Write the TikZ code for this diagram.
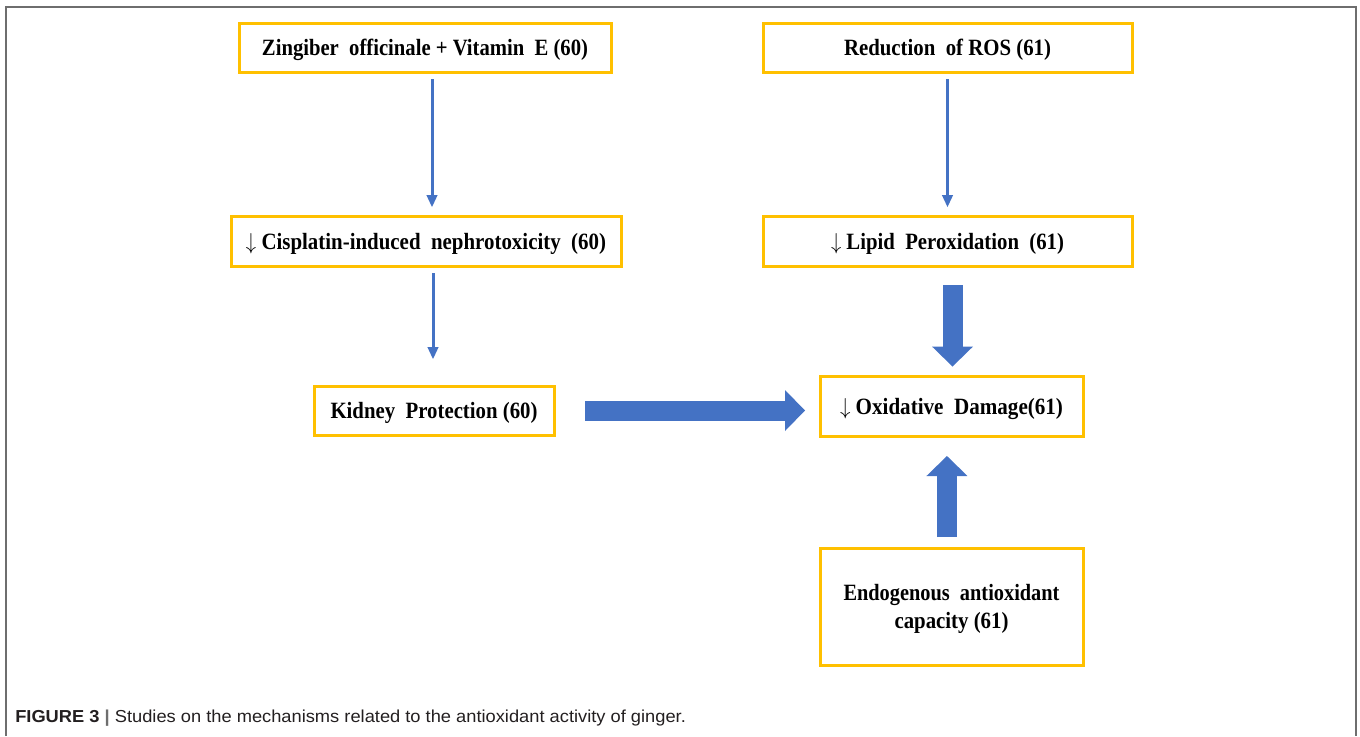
\documentclass[tikz,border=0pt]{standalone}
\usepackage{fontspec}
\usepackage{graphicx}
\setmainfont{Liberation Serif}
\newfontfamily\capfont{Liberation Sans}
\usetikzlibrary{arrows.meta}
\definecolor{boxgold}{HTML}{FFC000}
\definecolor{arrblue}{HTML}{4472C4}
\definecolor{framegray}{HTML}{6E6E6E}
\definecolor{captext}{HTML}{231F20}
\newcommand{\fw}[2]{\resizebox{#1pt}{\height}{\bfseries #2}}
\begin{document}
\begin{tikzpicture}[x=0.75pt,y=-0.75pt,
  gbox/.style={draw=boxgold, line width=2.25pt, fill=white, inner sep=0pt, outer sep=0pt,
    align=center, text depth=0pt, font=\fontsize{17.5}{19.5}\selectfont},
  thinarr/.style={draw=arrblue, line width=2.25pt, -{Triangle[length=9pt,width=8.5pt,line width=0pt]}},
  fatarr/.style={draw=arrblue, line width=15pt, -{Triangle[length=15pt,width=30.75pt,line width=0pt]}}
]
\useasboundingbox (0,0) rectangle (1360,736);
% frame
\draw[framegray, line width=1.5pt] (5.5,736) -- (5.5,6.5) -- (1355.5,6.5) -- (1355.5,736);

% boxes
\node[gbox, minimum width=279pt, minimum height=36.75pt] (A) at (425,47.5)
  {\fw{244.5}{Zingiber\ \ officinale + Vitamin\ \ E (60)}};
\node[gbox, minimum width=276.75pt, minimum height=36.75pt] (B) at (947.5,47.5)
  {\fw{155.25}{Reduction\ \ of ROS (61)}};
\node[gbox, minimum width=292.5pt, minimum height=37.5pt] (C) at (426,241)
  {\fw{270}{{\mdseries$\downarrow$} Cisplatin-induced\ \ nephrotoxicity\ \ (60)}};
\node[gbox, minimum width=276.75pt, minimum height=37.5pt] (D) at (947.5,241)
  {\fw{174.75}{{\mdseries$\downarrow$} Lipid\ \ Peroxidation\ \ (61)}};
\node[gbox, minimum width=180pt, minimum height=36.75pt] (E) at (434,410.5)
  {\fw{155.25}{Kidney\ \ Protection (60)}};
\node[gbox, minimum width=197.25pt, minimum height=45pt] (F) at (951.5,406)
  {\fw{167.25}{{\mdseries$\downarrow$} Oxidative\ \ Damage(61)}};
\node[gbox, minimum width=197.25pt, minimum height=87.75pt] (G) at (951.5,606.5)
  {\fw{162}{Endogenous\ \ antioxidant}\\[1pt]\fw{85.5}{capacity (61)}};

% thin arrows
\draw[thinarr, shorten <=5.25pt, shorten >=6.75pt] ([xshift=5.25pt]A.south) -- ([xshift=4.5pt]C.north);
\draw[thinarr, shorten <=5.25pt, shorten >=6.75pt] (B.south) -- (D.north);
\draw[thinarr, shorten <=5.25pt, shorten >=20.25pt] ([xshift=5.25pt]C.south) -- ([xshift=-0.75pt]E.north);

% fat arrows
\draw[fatarr, shorten <=23.25pt, shorten >=11.25pt] (E.east) -- (E.east -| F.west);
\draw[fatarr, shorten <=14.25pt, shorten >=7.1pt] ([xshift=0.75pt]F.north |- D.south) -- ([xshift=0.75pt]F.north);
\draw[fatarr, shorten <=8.25pt, shorten >=15pt] ([xshift=-3.4pt]G.north) -- ([xshift=-3.4pt]F.south);

% caption
\node[anchor=base west, inner sep=0pt, text=captext] (cap) at (15,722)
  {\resizebox{503pt}{\height}{\capfont\fontsize{13}{15}\selectfont\textbf{FIGURE 3} {\color{framegray}\textbf{|}} Studies on the mechanisms related to the antioxidant activity of ginger.}};
\end{tikzpicture}
\end{document}
